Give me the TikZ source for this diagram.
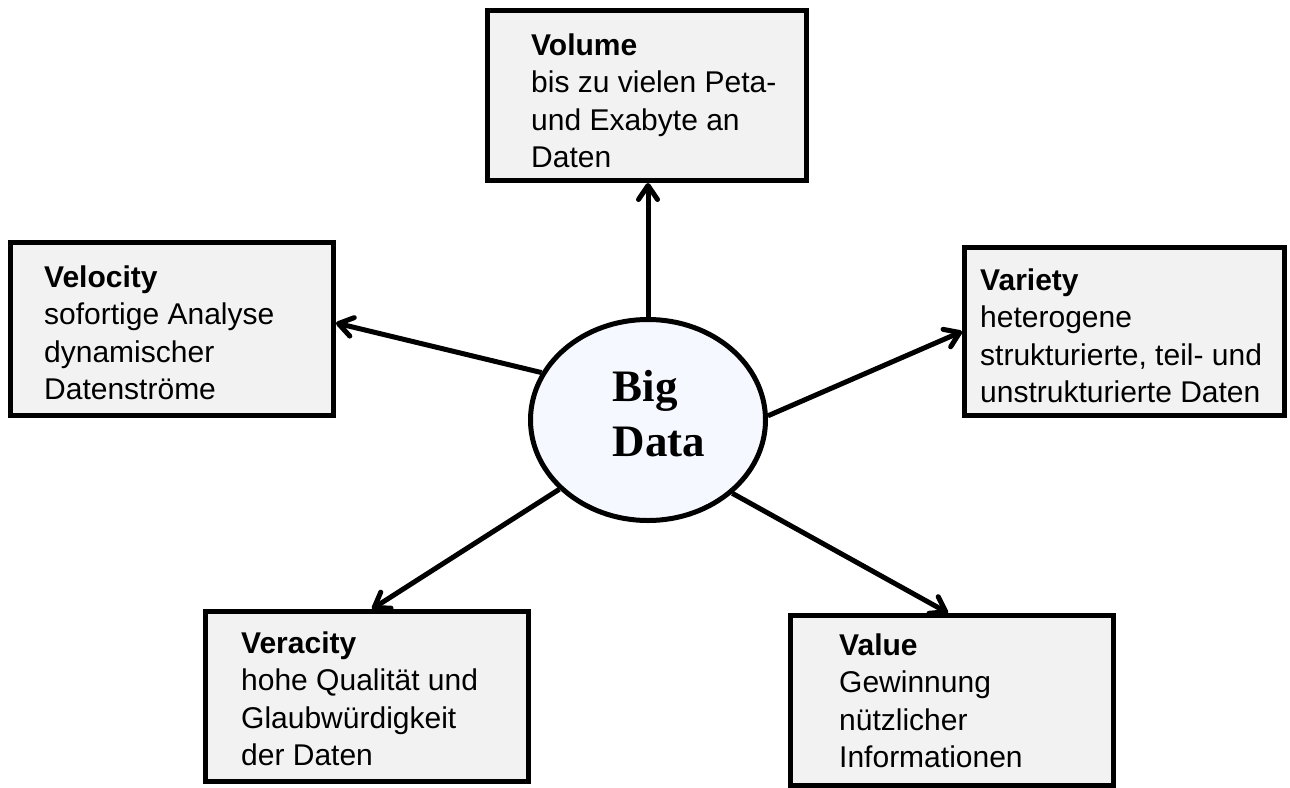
\documentclass[tikz,border=0pt]{standalone}
\usepackage{fontspec}
\setmainfont{Liberation Sans}
\newfontfamily\bigserif{Liberation Serif}
\usetikzlibrary{shapes.geometric,arrows.meta,calc}
\definecolor{boxgray}{RGB}{242,242,242}
\definecolor{ellfill}{RGB}{245,248,254}
\tikzset{
  infobox/.style={draw=black, fill=boxgray, line width=5pt, inner sep=0pt, rectangle},
  infotext/.style={anchor=north west, inner sep=0pt, align=left, font={\fontsize{30}{37.3}\selectfont}},
  conn/.style={line width=5pt, -{Straight Barb[length=14pt,width=19pt,round]}}
}
\begin{document}
\begin{tikzpicture}[x=1pt,y=-1pt]
\useasboundingbox (0,0) rectangle (1290,787);
% boxes
\node[infobox, minimum width=319pt, minimum height=170pt] (vol) at (647,95.5) {};
\node[infobox, minimum width=323pt, minimum height=173pt] (velo) at (172,329) {};
\node[infobox, minimum width=320pt, minimum height=168pt] (vari) at (1124.5,331.5) {};
\node[infobox, minimum width=323pt, minimum height=170pt] (vera) at (367,696.5) {};
\node[infobox, minimum width=323pt, minimum height=170pt] (val) at (952,700.5) {};
% texts
\node[infotext] (voltxt) at (531,33.5) {\textbf{Volume}\\bis zu vielen Peta-\\und Exabyte an\\Daten};
\node[infotext] (velotxt) at (44,265.5) {\textbf{Velocity}\\sofortige Analyse\\dynamischer\\Datenströme};
\node[infotext] (varitxt) at (980,268.5) {\textbf{Variety}\\heterogene\\strukturierte, teil- und\\unstrukturierte Daten};
\node[infotext] (veratxt) at (241,631.5) {\textbf{Veracity}\\hohe Qualität und\\Glaubwürdigkeit\\der Daten};
\node[infotext] (valtxt) at (839,633.5) {\textbf{Value}\\Gewinnung\\nützlicher\\Informationen};
% center ellipse
\node[ellipse, draw=black, fill=ellfill, line width=5pt, inner sep=0pt,
      minimum width=235pt, minimum height=201pt] (ell) at (648,420) {};
\node[inner sep=0pt, align=left, font={\bigserif\bfseries\fontsize{45}{55}\selectfont}] (bdtxt) at (659,414) {Big\\Data};
% connectors
\draw[conn] (ell.north) -- (ell.north |- vol.south);
\draw[conn] (ell.156) -- ($(velo.east)+(0,-6)$);
\draw[conn] (ell.2) -- (vari.west);
\draw[conn] (ell.218) -- ($(vera.north)+(5,0)$);
\draw[conn] (ell.319) -- ($(val.north)+(-4,0)$);
\end{tikzpicture}
\end{document}
